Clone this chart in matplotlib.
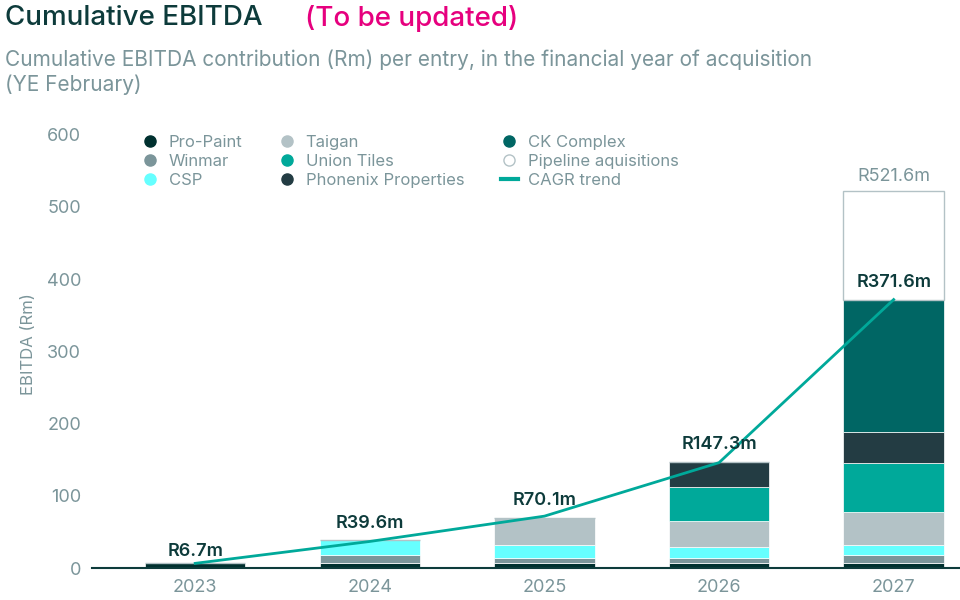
import matplotlib
matplotlib.use("Agg")
import matplotlib.pyplot as plt
from matplotlib.lines import Line2D
import numpy as np

plt.rcParams['font.family'] = ['Inter', 'DejaVu Sans']

years = ["2023", "2024", "2025", "2026", "2027"]
series = ["Pro-Paint", "Winmar", "CSP", "Taigan", "Union Tiles", "Phonenix Properties", "CK Complex", "Pipeline aquisitions"]
pro_paint = [6.7, 6.7, 6.7, 6.7, 6.7]
winmar = [0, 12.0, 7.8, 7.8, 11.7]
csp = [0, 20.9, 17.6, 14.4, 13.4]
taigan = [0, 0, 38.0, 36.9, 45.7]
union_tiles = [0, 0, 0, 46.3, 68.3]
phonenix = [0, 0, 0, 35.2, 43.0]
ck_complex = [0, 0, 0, 0, 182.8]
pipeline = [0, 0, 0, 0, 150.0]
cagr = [6.7, 37.0, 72.0, 146.0, 371.6]
totals = [6.7, 39.6, 70.1, 147.3, 371.6]
total_labels = ["R6.7m", "R39.6m", "R70.1m", "R147.3m", "R371.6m"]
pipeline_total_label = "R521.6m"

colors = ["#00302f", "#7b959a", "#66ffff", "#b3c2c6", "#00a99a", "#233c43", "#006664", "white"]
grey = "#7b959a"

fig = plt.figure(figsize=(9.6, 6), dpi=100)
ax = fig.add_axes([0.096, 0.053, 0.904, 0.747])
x = np.arange(len(years))
bottom = np.zeros(len(years))
data = [pro_paint, winmar, csp, taigan, union_tiles, phonenix, ck_complex, pipeline]
for name, vals, c in zip(series, data, colors):
    v = np.array(vals)
    if name == "Pipeline aquisitions":
        ax.bar(x, v, 0.575, bottom=bottom, color="white", edgecolor="#b3c2c6", linewidth=1, zorder=2)
    else:
        ax.bar(x, v, 0.575, bottom=bottom, color=c, edgecolor="white", linewidth=0.5, zorder=2)
    bottom += v

ax.plot(x, cagr, color="#00a99a", lw=2, zorder=3)

offs = [4, 10, 12, 12, 12]
for i, (t, lab) in enumerate(zip(totals, total_labels)):
    ax.text(x[i], t + offs[i], lab, ha="center", va="bottom", fontsize=13, fontweight="semibold", color="#0d3b3b", zorder=4)
ax.text(x[-1], bottom[-1] + 8, pipeline_total_label, ha="center", va="bottom", fontsize=13, color=grey)

ax.set_xlim(-0.59, 4.38)
ax.set_ylim(0, 620)
ax.set_yticks(range(0, 601, 100))
ax.set_xticks(x)
ax.set_xticklabels(years)
ax.tick_params(axis="both", length=0, labelsize=13, labelcolor=grey, pad=8)
for s in ["top", "right", "left"]:
    ax.spines[s].set_visible(False)
ax.spines["bottom"].set_color("#0d3b3b")
ax.spines["bottom"].set_linewidth(1.5)
ax.set_ylabel("EBITDA (Rm)", fontsize=12, color=grey, labelpad=8)

handles = []
for name, c in zip(series, colors):
    ec = "#b3c2c6" if c == "white" else c
    handles.append(Line2D([], [], marker="o", ls="", markersize=8, markerfacecolor=c, markeredgecolor=ec, label=name))
handles.append(Line2D([], [], color="#00a99a", lw=3, label="CAGR trend"))
leg = ax.legend(handles=handles, ncol=3, loc="upper left", bbox_to_anchor=(0.04, 1.0), frameon=False,
                fontsize=12, labelcolor=grey, handlelength=1, handletextpad=0.6, columnspacing=2.2,
                labelspacing=0.25)

fig.text(0.005, 0.97, "Cumulative EBITDA ", fontsize=20, color="#0d3b3b", va="center", fontweight="medium")
fig.text(0.318, 0.97, "(To be updated)", fontsize=20, color="#e6007e", va="center", fontweight="medium")
fig.text(0.005, 0.88, "Cumulative EBITDA contribution (Rm) per entry, in the financial year of acquisition\n(YE February)",
         fontsize=15, color=grey, va="center", linespacing=1.25)

fig.savefig("out.png", dpi=100)
